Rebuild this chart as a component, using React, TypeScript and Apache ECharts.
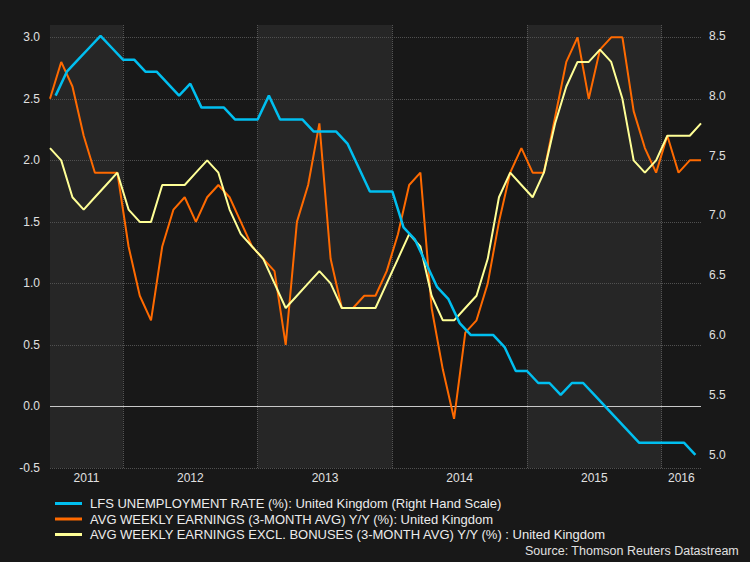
import { useEffect, useRef } from "react";
import * as echarts from "echarts";

// First month of each series (earnings plotted mid-month, unemployment at period end)
const earningsStart = { year: 2011, month: 6 };
const unemploymentStart = { year: 2011, month: 6 };

// LFS unemployment rate (%), right-hand scale
const unemployment = [
  8.0, 8.2, 8.3, 8.4, 8.5, 8.4, 8.3, 8.3, 8.2, 8.2, 8.1, 8.0, 8.1, 7.9, 7.9, 7.9,
  7.8, 7.8, 7.8, 8.0, 7.8, 7.8, 7.8, 7.7, 7.7, 7.7, 7.6, 7.4, 7.2, 7.2, 7.2, 6.9,
  6.8, 6.6, 6.4, 6.3, 6.1, 6.0, 6.0, 6.0, 5.9, 5.7, 5.7, 5.6, 5.6, 5.5, 5.6, 5.6,
  5.5, 5.4, 5.3, 5.2, 5.1, 5.1, 5.1, 5.1, 5.1, 5.0,
];

// Avg weekly earnings (3-month avg) y/y (%)
const avgWeeklyEarnings = [
  2.5, 2.8, 2.6, 2.2, 1.9, 1.9, 1.9, 1.3, 0.9, 0.7, 1.3, 1.6, 1.7, 1.5, 1.7, 1.8,
  1.7, 1.5, 1.3, 1.2, 1.1, 0.5, 1.5, 1.8, 2.3, 1.2, 0.8, 0.8, 0.9, 0.9, 1.1, 1.4,
  1.8, 1.9, 0.8, 0.3, -0.1, 0.6, 0.7, 1.0, 1.5, 1.9, 2.1, 1.9, 1.9, 2.35, 2.8, 3.0,
  2.5, 2.9, 3.0, 3.0, 2.4, 2.1, 1.9, 2.2, 1.9, 2.0, 2.0,
];

// Avg weekly earnings excl. bonuses (3-month avg) y/y (%)
const avgWeeklyEarningsExBonus = [
  2.1, 2.0, 1.7, 1.6, 1.7, 1.8, 1.9, 1.6, 1.5, 1.5, 1.8, 1.8, 1.8, 1.9, 2.0, 1.9,
  1.6, 1.4, 1.3, 1.2, 1.0, 0.8, 0.9, 1.0, 1.1, 1.0, 0.8, 0.8, 0.8, 0.8, 1.0, 1.2,
  1.4, 1.3, 0.9, 0.7, 0.7, 0.8, 0.9, 1.2, 1.7, 1.9, 1.8, 1.7, 1.9, 2.3, 2.6, 2.8,
  2.8, 2.9, 2.8, 2.5, 2.0, 1.9, 2.0, 2.2, 2.2, 2.2, 2.3,
];

const years = [2011, 2012, 2013, 2014, 2015, 2016];
const leftTicks = [-0.5, 0, 0.5, 1, 1.5, 2, 2.5, 3];
const rightTicks = [5, 5.5, 6, 6.5, 7, 7.5, 8, 8.5];

const seriesNames = [
  "LFS UNEMPLOYMENT RATE (%): United Kingdom (Right Hand Scale)",
  "AVG WEEKLY EARNINGS (3-MONTH AVG) Y/Y (%): United Kingdom",
  "AVG WEEKLY EARNINGS EXCL. BONUSES (3-MONTH AVG) Y/Y (%) : United Kingdom",
];
const sourceText = "Source: Thomson Reuters Datastream";

const COLORS = { blue: "#00bff0", orange: "#ff6a00", yellow: "#ffff96" };
const FONT = "'Liberation Sans', Arial, sans-serif";

const midMonth = (start: { year: number; month: number }, i: number) =>
  start.year + (start.month - 1 + 0.5 + i) / 12;
const endMonth = (start: { year: number; month: number }, i: number) =>
  start.year + (start.month + i) / 12;

export default function App() {
  const ref = useRef<HTMLDivElement>(null);

  useEffect(() => {
    document.body.style.margin = "0";
    document.body.style.background = "#181818";
    if (!ref.current) return;
    const chart = echarts.init(ref.current, undefined, { renderer: "svg" });

    const earnData = avgWeeklyEarnings.map((v, i) => [midMonth(earningsStart, i), v]);
    const exBonusData = avgWeeklyEarningsExBonus.map((v, i) => [midMonth(earningsStart, i), v]);
    const unempData = unemployment.map((v, j) => [endMonth(unemploymentStart, j), v]);

    const xMin = earnData[0][0];
    const xMax = earnData[earnData.length - 1][0];

    const spans = years.map((y) => [Math.max(y, xMin), Math.min(y + 1, xMax)]);
    const labelMids = spans.map(([a, b]) => (a + b) / 2);
    const bands = spans
      .filter((_, k) => k % 2 === 0)
      .map(([a, b]) => [{ xAxis: a }, { xAxis: b }]);
    const boundaries = years.filter((y) => y > xMin && y < xMax).map((y) => ({ xAxis: y }));

    const dotted = { color: "#505050", type: [1, 1] as number[], width: 1 };

    chart.setOption({
      animation: false,
      backgroundColor: "#181818",
      textStyle: { fontFamily: FONT },
      title: {
        text: sourceText,
        right: 6,
        bottom: 0,
        textStyle: { color: "#e0e0e0", fontSize: 12.5, fontWeight: "normal", fontFamily: FONT },
      },
      legend: {
        orient: "vertical",
        left: 50,
        top: 492,
        itemWidth: 27,
        itemHeight: 3,
        itemGap: 2.5,
        icon: "rect",
        data: seriesNames,
        textStyle: { color: "#ececec", fontSize: 13, fontFamily: FONT, lineHeight: 13, padding: [0, 0, 0, 3] },
        selectedMode: false,
      },
      grid: { left: 50, right: 49, top: 25, bottom: 94, containLabel: false },
      xAxis: {
        type: "value",
        min: xMin,
        max: xMax,
        z: 1,
        axisLine: { show: false, onZero: false },
        axisTick: { show: false },
        splitLine: { show: false },
        axisLabel: {
          customValues: labelMids,
          formatter: (v: number) => String(Math.floor(v)),
          color: "#e0e0e0",
          fontSize: 12,
          margin: 4,
          fontFamily: FONT,
        },
      },
      yAxis: [
        {
          type: "value",
          min: -0.5,
          max: 3.1,
          interval: 0.5,
          z: 1,
          axisLine: { show: false },
          axisTick: { show: false },
          axisLabel: {
            customValues: leftTicks,
            formatter: (v: number) => v.toFixed(1),
            color: "#e0e0e0",
            fontSize: 12,
            margin: 10,
            fontFamily: FONT,
          },
          splitLine: { show: true, showMaxLine: false, lineStyle: dotted },
        },
        {
          type: "value",
          position: "right",
          min: 4.89,
          max: 8.59,
          z: 1,
          axisLine: { show: false },
          axisTick: { show: false },
          splitLine: { show: false },
          axisLabel: {
            customValues: rightTicks,
            formatter: (v: number) => v.toFixed(1),
            color: "#e0e0e0",
            fontSize: 12,
            margin: 8,
            fontFamily: FONT,
          },
        },
      ],
      series: [
        {
          name: "__frame",
          type: "line",
          xAxisIndex: 0,
          yAxisIndex: 0,
          data: [],
          silent: true,
          markArea: {
            z: 0,
            silent: true,
            itemStyle: { color: "#262626" },
            label: { show: false },
            data: bands,
          },
          markLine: {
            z: 1,
            silent: true,
            symbol: ["none", "none"],
            label: { show: false },
            lineStyle: { ...dotted, color: "#555" },
            data: [
              ...boundaries,
              { yAxis: 0, lineStyle: { color: "#c8c8c8", type: "solid", width: 1 } },
            ],
          },
        },
        {
          name: seriesNames[1],
          type: "line",
          xAxisIndex: 0,
          yAxisIndex: 0,
          z: 3,
          data: earnData,
          showSymbol: false,
          color: COLORS.orange,
          lineStyle: { color: COLORS.orange, width: 2 },
        },
        {
          name: seriesNames[2],
          type: "line",
          xAxisIndex: 0,
          yAxisIndex: 0,
          z: 3,
          data: exBonusData,
          showSymbol: false,
          color: COLORS.yellow,
          lineStyle: { color: COLORS.yellow, width: 2 },
        },
        {
          name: seriesNames[0],
          type: "line",
          xAxisIndex: 0,
          yAxisIndex: 1,
          z: 4,
          data: unempData,
          showSymbol: false,
          color: COLORS.blue,
          lineStyle: { color: COLORS.blue, width: 2.5 },
        },
      ],
    });

    return () => chart.dispose();
  }, []);

  return <div ref={ref} style={{ width: 750, height: 562, background: "#181818" }} />;
}
